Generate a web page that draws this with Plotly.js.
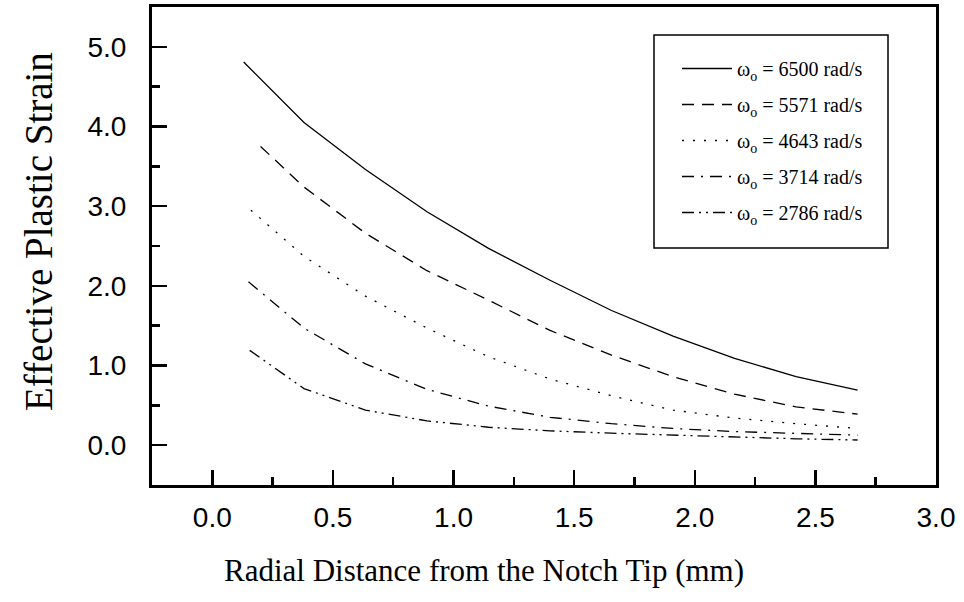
<!DOCTYPE html>
<html>
<head>
<meta charset="utf-8">
<script src="https://cdn.plot.ly/plotly-3.0.1.min.js"></script>
<style>html,body{margin:0;padding:0;background:#fff;}#chart{width:964px;height:602px;}</style>
</head>
<body>
<div id="chart"></div>
<script>
// Radial distance (mm)
const x6500 = [0.13, 0.38, 0.635, 0.89, 1.145, 1.40, 1.655, 1.91, 2.165, 2.42, 2.675];
const x5571 = [0.20, 0.38, 0.635, 0.89, 1.145, 1.40, 1.655, 1.91, 2.165, 2.42, 2.675];
const x4643 = [0.16, 0.38, 0.635, 0.89, 1.145, 1.40, 1.655, 1.91, 2.165, 2.42, 2.675];
const x3714 = [0.15, 0.38, 0.635, 0.89, 1.145, 1.40, 1.655, 1.91, 2.165, 2.42, 2.675];
const x2786 = [0.155, 0.38, 0.635, 0.89, 1.145, 1.40, 1.655, 1.91, 2.165, 2.42, 2.675];
// Effective plastic strain
const y6500 = [4.81, 4.05, 3.46, 2.93, 2.47, 2.07, 1.69, 1.37, 1.09, 0.86, 0.69];
const y5571 = [3.75, 3.24, 2.66, 2.19, 1.82, 1.44, 1.13, 0.86, 0.64, 0.48, 0.39];
const y4643 = [2.95, 2.37, 1.87, 1.47, 1.11, 0.83, 0.62, 0.44, 0.34, 0.27, 0.21];
const y3714 = [2.05, 1.47, 1.02, 0.70, 0.49, 0.35, 0.27, 0.21, 0.17, 0.145, 0.126];
const y2786 = [1.19, 0.71, 0.44, 0.305, 0.225, 0.18, 0.15, 0.125, 0.10, 0.08, 0.065];
const seriesNames = [
  'ω<sub>o</sub> = 6500 rad/s',
  'ω<sub>o</sub> = 5571 rad/s',
  'ω<sub>o</sub> = 4643 rad/s',
  'ω<sub>o</sub> = 3714 rad/s',
  'ω<sub>o</sub> = 2786 rad/s'
];
const xTickVals = [0.0, 0.5, 1.0, 1.5, 2.0, 2.5, 3.0];
const xTickText = ['0.0', '0.5', '1.0', '1.5', '2.0', '2.5', '3.0'];
const yTickVals = [0, 1, 2, 3, 4, 5];
const yTickText = ['0.0', '1.0', '2.0', '3.0', '4.0', '5.0'];
const xTitle = 'Radial Distance from the Notch Tip (mm)';
const yTitle = 'Effective Plastic Strain';

const xs = [x6500, x5571, x4643, x3714, x2786];
const ys = [y6500, y5571, y4643, y3714, y2786];
const dashes = ['solid', '12px,8px', '2px,9px', '12px,7px,2px,7px', '12px,5px,2px,5px,2px,5px'];

const traces = xs.map((xv, i) => ({
  x: xv, y: ys[i], type: 'scatter', mode: 'lines', name: seriesNames[i],
  legendgroup: 'g' + i,
  line: {color: '#000', width: 1.3, dash: dashes[i]}
}));

// plot area in pixels: x 152..936, y 7..485
const W = 784, H = 478;
const px = v => (v - 152) / W;
const py = v => (485 - v) / H;

const serif = '"Liberation Serif", "Times New Roman", serif';
const sans = '"Liberation Sans", Arial, sans-serif';

const layout = {
  width: 964, height: 602,
  margin: {l: 152, r: 28, t: 7, b: 117},
  paper_bgcolor: '#fff', plot_bgcolor: '#fff',
  showlegend: true,
  legend: {
    x: px(677), y: py(49), xanchor: 'left', yanchor: 'top',
    borderwidth: 0, bgcolor: 'rgba(0,0,0,0)',
    font: {family: serif, size: 20, color: '#000'},
    itemwidth: 50,
    tracegroupgap: 7
  },
  shapes: [{
    type: 'rect', xref: 'paper', yref: 'paper',
    x0: px(654), x1: px(888), y0: py(248), y1: py(35),
    line: {color: '#000', width: 1.5}, fillcolor: 'rgba(0,0,0,0)', layer: 'above'
  }],
  annotations: [
    {text: xTitle, xref: 'paper', yref: 'paper', x: px(484), y: py(570),
     xanchor: 'center', yanchor: 'middle', showarrow: false,
     font: {family: serif, size: 31, color: '#000'}},
    {text: yTitle, xref: 'paper', yref: 'paper', x: px(38), y: py(232),
     xanchor: 'center', yanchor: 'middle', showarrow: false, textangle: -90,
     font: {family: serif, size: 39, color: '#000'}}
  ],
  xaxis: {
    range: [-0.25, 3.0],
    tickmode: 'array', tickvals: xTickVals, ticktext: xTickText,
    ticks: 'inside', ticklen: 15, tickwidth: 2.5, tickcolor: '#000',
    minor: {dtick: 0.25, tick0: 0, ticks: 'inside', ticklen: 8, tickwidth: 2.5, tickcolor: '#000'},
    showline: true, linecolor: '#000', linewidth: 3, mirror: true,
    showgrid: false, zeroline: false,
    tickfont: {family: sans, size: 28, color: '#000'},
    ticklabelstandoff: 5
  },
  yaxis: {
    range: [-0.5, 5.5],
    tickmode: 'array', tickvals: yTickVals, ticktext: yTickText,
    ticks: 'inside', ticklen: 15, tickwidth: 2.5, tickcolor: '#000',
    minor: {dtick: 0.5, tick0: 0, ticks: 'inside', ticklen: 8, tickwidth: 2.5, tickcolor: '#000'},
    showline: true, linecolor: '#000', linewidth: 3, mirror: true,
    showgrid: false, zeroline: false,
    tickfont: {family: sans, size: 28, color: '#000'},
    ticklabelstandoff: 17
  }
};

Plotly.newPlot('chart', traces, layout, {staticPlot: true, displayModeBar: false});
</script>
</body>
</html>
